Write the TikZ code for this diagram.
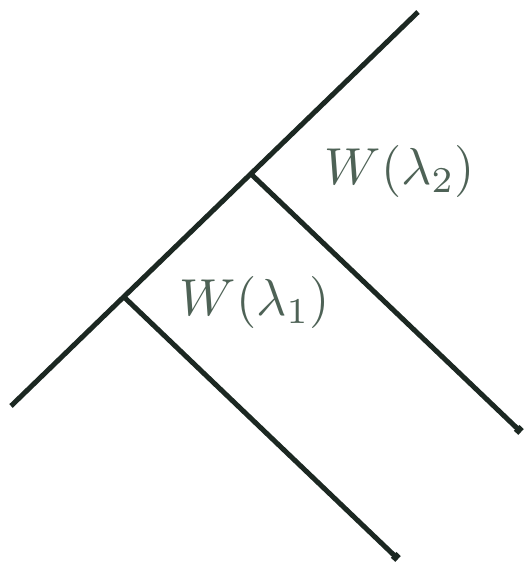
\documentclass[tikz,border=0pt]{standalone}
\usepackage{xcolor}
\usepackage{tikz}
\usetikzlibrary{arrows.meta}
\definecolor{inkline}{RGB}{28,40,34}
\definecolor{inktext}{RGB}{78,98,86}

\begin{document}
\begin{tikzpicture}[x=1pt, y=1pt, line width=5pt, draw=inkline,
    branch/.style={draw=inkline, -{Square[length=6pt,width=8pt]}},
    wlabel/.style={text=inktext, scale=5.2}]
    \useasboundingbox (0,0) rectangle (525,568);
    \coordinate (A) at (11,162);
    \coordinate (B) at (418,556);
    \coordinate (J1) at (124,271);
    \coordinate (J2) at (251,394);
    \coordinate (E1) at (398,9);
    \coordinate (E2) at (521,136);
    \draw (A) -- (B);
    \draw[branch] (J1) -- (E1);
    \draw[branch] (J2) -- (E2);
    \node[wlabel] (L1) at (255,265) {$W(\lambda_1)$};
    \node[wlabel] (L2) at (400,396) {$W(\lambda_2)$};
  \end{tikzpicture}
\end{document}
